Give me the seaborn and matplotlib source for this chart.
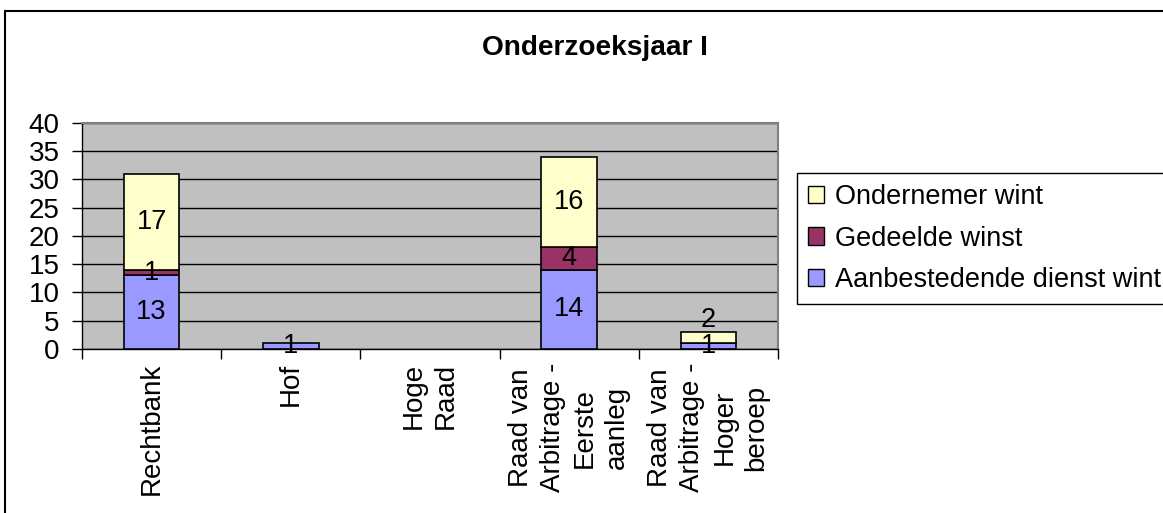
import matplotlib
matplotlib.use("Agg")
import matplotlib.pyplot as plt
from matplotlib.patches import Patch, Rectangle
from matplotlib.ticker import FixedLocator, MultipleLocator
import numpy as np
import seaborn as sns

# ---- data ----
categories = ["Rechtbank", "Hof", "Hoge\nRaad",
              "Raad van\nArbitrage -\nEerste\naanleg",
              "Raad van\nArbitrage -\nHoger\nberoep"]
aanbestedende = [13, 1, 0, 14, 1]
gedeelde = [1, 0, 0, 4, 0]
ondernemer = [17, 0, 0, 16, 2]
series_names = ["Aanbestedende dienst wint", "Gedeelde winst", "Ondernemer wint"]
title = "Onderzoeksjaar I"
y_ticks = [0, 5, 10, 15, 20, 25, 30, 35, 40]

# ---- styling ----
colors = ["#9999FF", "#993366", "#FFFFCC"]
FONT = "Liberation Sans"
sns.set_theme(style="white")
plt.rcParams["font.family"] = [FONT, "DejaVu Sans"]
plt.rcParams.update({"text.color": "black", "xtick.color": "black",
                     "ytick.color": "black", "axes.labelcolor": "black"})

W, H = 1163, 513
fig = plt.figure(figsize=(W / 100, H / 100), dpi=100)
ax = fig.add_axes([82 / W, 1 - 349 / H, (778 - 82) / W, (349 - 122.7) / H])
ax.set_facecolor("#C0C0C0")

series = [aanbestedende, gedeelde, ondernemer]
bottom = np.zeros(len(categories))
for vals, col in zip(series, colors):
    sns.barplot(x=list(range(len(categories))), y=vals, bottom=bottom,
                color=col, width=0.4, edgecolor="black", linewidth=1.2,
                saturation=1, ax=ax, zorder=3, native_scale=True)
    bottom = bottom + np.array(vals)

# empty segments get no outline
for p in ax.patches:
    if p.get_height() == 0:
        p.set_visible(False)

# value labels in the middle of each segment
label_nudge = {(4, 2): 3.1}
bottom = np.zeros(len(categories))
for si, vals in enumerate(series):
    for ci, v in enumerate(vals):
        if v > 0:
            yc = bottom[ci] + v / 2 + label_nudge.get((ci, si), 0)
            ax.text(ci, yc, str(v), ha="center", va="center",
                    fontsize=19.5, color="black", zorder=5)
    bottom = bottom + np.array(vals)

ax.set_xlim(-0.5, len(categories) - 0.5)
ax.set_ylim(0, 40)
ax.yaxis.set_major_locator(FixedLocator(y_ticks))
ax.grid(axis="y", color="black", linewidth=1.0, zorder=0)
ax.set_axisbelow(True)

ax.set_xticks(range(len(categories)))
ax.set_xticklabels(categories, rotation=90, ha="center", va="top",
                   multialignment="center", fontsize=20, linespacing=1.3)
ax.xaxis.set_minor_locator(MultipleLocator(1, offset=0.5))
ax.tick_params(axis="x", which="major", length=0, pad=10)
ax.tick_params(axis="x", which="minor", length=7, width=1, color="black",
               direction="out", bottom=True)
ax.tick_params(axis="y", length=7, width=1, color="black", direction="out",
               left=True, labelsize=20, pad=9)

for side in ["left", "bottom"]:
    ax.spines[side].set_color("black")
    ax.spines[side].set_linewidth(1.0)
for side in ["top", "right"]:
    ax.spines[side].set_color("#808080")
    ax.spines[side].set_linewidth(1.5)
ax.set_xlabel("")
ax.set_ylabel("")

fig.text((483 + 707) / 2 / W, 1 - 48 / H, title, ha="center", va="center",
         fontsize=20.2, fontweight="bold", color="black")

handles = [Patch(facecolor=c, edgecolor="black", linewidth=1.0, label=n)
           for c, n in zip(colors[::-1], series_names[::-1])]
leg = fig.legend(handles=handles, loc="upper left",
                 bbox_to_anchor=(797 / W, 1 - 173 / H),
                 frameon=True, fancybox=False, framealpha=1,
                 edgecolor="black", fontsize=19.5, handlelength=0.6,
                 handleheight=0.6, handletextpad=0.4, labelspacing=0.58,
                 borderpad=0.4, borderaxespad=0)
leg.get_frame().set_linewidth(1.0)

# outer chart border
fig.patches.append(Rectangle((5 / W, -0.2), 1.5, 1.2 - 11 / H,
                             transform=fig.transFigure, fill=False,
                             edgecolor="black", linewidth=1.5))

fig.savefig("out.png", dpi=100)
